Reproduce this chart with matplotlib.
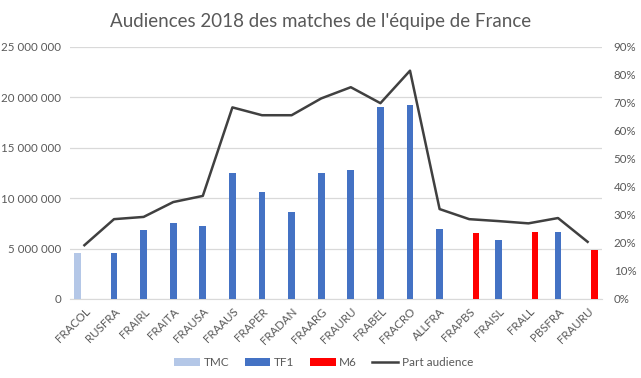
import numpy as np
import matplotlib.pyplot as plt
from matplotlib.ticker import FuncFormatter

plt.rcParams['font.family'] = ['Lato', 'DejaVu Sans']

matches = ['FRACOL', 'RUSFRA', 'FRAIRL', 'FRAITA', 'FRAUSA', 'FRAAUS', 'FRAPER',
           'FRADAN', 'FRAARG', 'FRAURU', 'FRABEL', 'FRACRO', 'ALLFRA', 'FRAPBS',
           'FRAISL', 'FRALL', 'PBSFRA', 'FRAURU']
chaine = ['TMC', 'TF1', 'TF1', 'TF1', 'TF1', 'TF1', 'TF1', 'TF1', 'TF1', 'TF1',
          'TF1', 'TF1', 'TF1', 'M6', 'TF1', 'M6', 'TF1', 'M6']
audience = [4600000, 4600000, 6850000, 7550000, 7250000, 12500000, 10600000,
            8650000, 12500000, 12800000, 19050000, 19250000, 6950000, 6550000,
            5850000, 6650000, 6650000, 4850000]
part = [0.192, 0.285, 0.293, 0.346, 0.368, 0.684, 0.656, 0.656, 0.716, 0.756,
        0.699, 0.815, 0.321, 0.285, 0.278, 0.270, 0.289, 0.204]

series = ['TMC', 'TF1', 'M6']
couleurs = {'TMC': '#B4C7E7', 'TF1': '#4472C4', 'M6': '#FF0000'}
txt = '#595959'

fig = plt.figure(figsize=(6.41, 3.78), dpi=100)
ax = fig.add_axes([0.1086, 0.209, 0.8312, 0.667])
ax2 = ax.twinx()

x = np.arange(len(matches))
w = 0.225
for k, s in enumerate(series):
    idx = [i for i in range(len(matches)) if chaine[i] == s]
    vals = [audience[i] for i in idx]
    ax.bar(x[idx] + (k - 1) * w, vals, w, color=couleurs[s], label=s, zorder=3)

ax2.plot(x, part, color='#404040', lw=1.8, label='Part audience', zorder=4)

ax.set_xlim(-0.5, len(matches) - 0.5)
ax.set_ylim(0, 25000000)
ax.set_yticks(np.arange(0, 25000001, 5000000))
ax.yaxis.set_major_formatter(FuncFormatter(lambda v, p: '{:,.0f}'.format(v).replace(',', ' ')))
ax2.set_ylim(0, 0.9)
ax2.set_yticks(np.arange(0, 0.91, 0.1))
ax2.yaxis.set_major_formatter(FuncFormatter(lambda v, p: '{:.0f}%'.format(v * 100)))

ax.set_xticks(x)
ax.set_xticklabels(matches, rotation=45, ha='right', rotation_mode='anchor')
ax.grid(axis='y', color='#D9D9D9', lw=0.9, zorder=0)
ax.set_axisbelow(True)

for a in (ax, ax2):
    for sp in a.spines.values():
        sp.set_visible(False)
    a.tick_params(length=0, colors=txt, labelsize=8.3)
ax.spines['bottom'].set_visible(True)
ax.spines['bottom'].set_color('#D9D9D9')
ax.tick_params(axis='x', pad=5)
ax.tick_params(axis='y', pad=6)
ax2.tick_params(axis='y', pad=8)

fig.suptitle("Audiences 2018 des matches de l'équipe de France", y=0.965,
             fontsize=13.5, color=txt)

h1, l1 = ax.get_legend_handles_labels()
h2, l2 = ax2.get_legend_handles_labels()
fig.legend(h1 + h2, l1 + l2, loc='center', bbox_to_anchor=(0.505, 0.04), ncol=4,
           frameon=False, fontsize=8.5, labelcolor=txt, handlelength=2.2,
           handleheight=0.6, columnspacing=1.3, handletextpad=0.3)

fig.savefig('out.png', dpi=100)
